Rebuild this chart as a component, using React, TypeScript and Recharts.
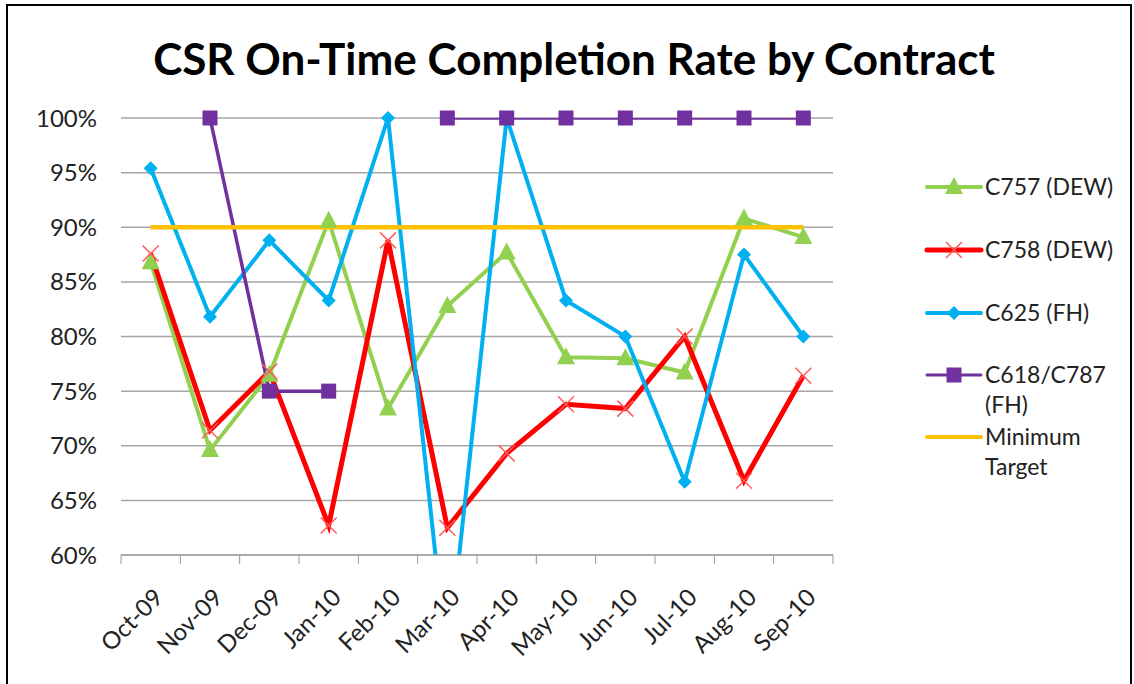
import React from 'react';
import { LineChart, Line, XAxis, YAxis, CartesianGrid } from 'recharts';

const months = ['Oct-09', 'Nov-09', 'Dec-09', 'Jan-10', 'Feb-10', 'Mar-10', 'Apr-10', 'May-10', 'Jun-10', 'Jul-10', 'Aug-10', 'Sep-10'];
const c757 = [0.868, 0.696, 0.765, 0.906, 0.734, 0.828, 0.877, 0.781, 0.78, 0.767, 0.908, 0.891];
const c758 = [0.876, 0.714, 0.768, 0.627, 0.888, 0.625, 0.693, 0.738, 0.734, 0.8, 0.668, 0.764];
const c625 = [0.954, 0.818, 0.888, 0.833, 1.0, 0.5, 1.0, 0.833, 0.8, 0.667, 0.875, 0.8];
const c618 = [null, 1.0, 0.75, 0.75, null, 1.0, 1.0, 1.0, 1.0, 1.0, 1.0, 1.0];
const minTarget = [0.9, 0.9, 0.9, 0.9, 0.9, 0.9, 0.9, 0.9, 0.9, 0.9, 0.9, 0.9];
const yTicks = [0.6, 0.65, 0.7, 0.75, 0.8, 0.85, 0.9, 0.95, 1.0];
const yMin = 0.6;

const data = months.map((m, i) => ({
  month: m,
  c757: c757[i],
  c758: c758[i],
  c625: c625[i],
  c618: c618[i],
  target: minTarget[i],
}));

const FONT = 'Lato, "Open Sans", sans-serif';
const W = 1134;
const H = 684;
const margin = { top: 118, right: 301, left: 0, bottom: 0 };
const yAxisW = 121;
const plotW = W - margin.right - yAxisW;
const half = plotW / months.length / 2;

const GREEN = '#92D050';
const RED = '#FF0000';
const BLUE = '#00B0F0';
const PURPLE = '#7030A0';
const ORANGE = '#FFC000';

function Marker({ kind, cx, cy }: { kind: string; cx: number; cy: number }) {
  if (kind === 'tri') return <path d={`M${cx},${cy - 10} L${cx + 9},${cy + 7} L${cx - 9},${cy + 7} Z`} fill={GREEN} />;
  if (kind === 'x')
    return (
      <g stroke="#FF5A5A" strokeWidth={1.5}>
        <line x1={cx - 8} y1={cy - 8} x2={cx + 8} y2={cy + 8} />
        <line x1={cx - 8} y1={cy + 8} x2={cx + 8} y2={cy - 8} />
      </g>
    );
  if (kind === 'dia') return <path d={`M${cx},${cy - 7} L${cx + 7},${cy} L${cx},${cy + 7} L${cx - 7},${cy} Z`} fill={BLUE} />;
  if (kind === 'sq') return <rect x={cx - 7.5} y={cy - 7.5} width={15} height={15} fill={PURPLE} />;
  return null;
}

// markers outside the axis range are hidden, like the clipped line
const dotOf = (kind: string) => (props: any) => {
  const { cx, cy, index, value } = props;
  if (cx == null || cy == null || value == null || value < yMin) return <g key={`d${index}`} />;
  return (
    <g key={`d${index}`}>
      <Marker kind={kind} cx={cx} cy={cy} />
    </g>
  );
};

const XTick = (props: any) => {
  const { x, y, payload, index } = props;
  const tx = x + 14;
  const ty = y + 44;
  return (
    <g>
      <line x1={x - half} y1={y} x2={x - half} y2={y + 9} stroke="#999" />
      {index === months.length - 1 && <line x1={x + half} y1={y} x2={x + half} y2={y + 9} stroke="#999" />}
      <text x={tx} y={ty} transform={`rotate(-45, ${tx}, ${ty})`} textAnchor="end" fontSize={24} fontFamily={FONT} fill="#222">
        {payload.value}
      </text>
    </g>
  );
};

const legendItems = [
  { kind: 'tri', color: GREEN, w: 4, lines: ['C757 (DEW)'], y: 187 },
  { kind: 'x', color: RED, w: 5, lines: ['C758 (DEW)'], y: 250 },
  { kind: 'dia', color: BLUE, w: 4, lines: ['C625 (FH)'], y: 313 },
  { kind: 'sq', color: PURPLE, w: 3, lines: ['C618/C787', '(FH)'], y: 375 },
  { kind: 'none', color: ORANGE, w: 4, lines: ['Minimum', 'Target'], y: 437 },
];

function ChartLegend() {
  return (
    <svg width={220} height={340} style={{ position: 'absolute', left: 910, top: 150 }}>
      {legendItems.map((it) => {
        const cy = it.y - 150;
        return (
          <g key={it.lines[0]}>
            <line x1={17} y1={cy} x2={71} y2={cy} stroke={it.color} strokeWidth={it.w} strokeLinecap="round" />
            <Marker kind={it.kind} cx={44} cy={cy} />
            {it.lines.map((t, j) => (
              <text key={t} x={75} y={cy + 8 + j * 30} fontSize={23} fontFamily={FONT} fill="#222">
                {t}
              </text>
            ))}
          </g>
        );
      })}
    </svg>
  );
}

export default function App() {
  return (
    <div style={{ position: 'absolute', left: 0, top: 0, width: W, height: H, background: '#fff', overflow: 'hidden' }}>
      <style>{`.recharts-line-dots { clip-path: none; }`}</style>
      <div style={{ position: 'absolute', left: 6, top: 4, width: 1122, height: 720, border: '2.5px solid #000' }} />
      <div
        style={{
          position: 'absolute',
          left: 0,
          top: 33,
          width: 1148,
          textAlign: 'center',
          fontFamily: FONT,
          fontWeight: 700,
          fontSize: 44,
          lineHeight: '50px',
          color: '#000',
        }}
      >
        CSR On-Time Completion Rate by Contract
      </div>
      <div style={{ position: 'absolute', left: 0, top: 0 }}>
        <LineChart width={W} height={H} data={data} margin={margin}>
          <CartesianGrid horizontal vertical={false} stroke="#A6A6A6" strokeWidth={1.5} />
          <XAxis
            dataKey="month"
            height={129}
            padding={{ left: half, right: half }}
            stroke="#999"
            tickLine={false}
            tickSize={0}
            tickMargin={0}
            interval={0}
            tick={<XTick />}
          />
          <YAxis
            width={yAxisW}
            domain={[yMin, 1]}
            ticks={yTicks}
            allowDataOverflow
            axisLine={false}
            tickLine={false}
            tickSize={0}
            tickMargin={24}
            tickFormatter={(v: number) => `${Math.round(v * 100)}%`}
            tick={{ fontSize: 24, fontFamily: FONT, fill: '#222' }}
          />
          <Line dataKey="c757" stroke={GREEN} strokeWidth={4} dot={dotOf('tri')} isAnimationActive={false} />
          <Line dataKey="c758" stroke={RED} strokeWidth={5} dot={dotOf('x')} isAnimationActive={false} />
          <Line dataKey="c625" stroke={BLUE} strokeWidth={4} dot={dotOf('dia')} isAnimationActive={false} />
          <Line dataKey="c618" stroke={PURPLE} strokeWidth={3.5} dot={dotOf('sq')} isAnimationActive={false} />
          <Line dataKey="target" stroke={ORANGE} strokeWidth={4.5} dot={false} isAnimationActive={false} />
        </LineChart>
      </div>
      <ChartLegend />
    </div>
  );
}
